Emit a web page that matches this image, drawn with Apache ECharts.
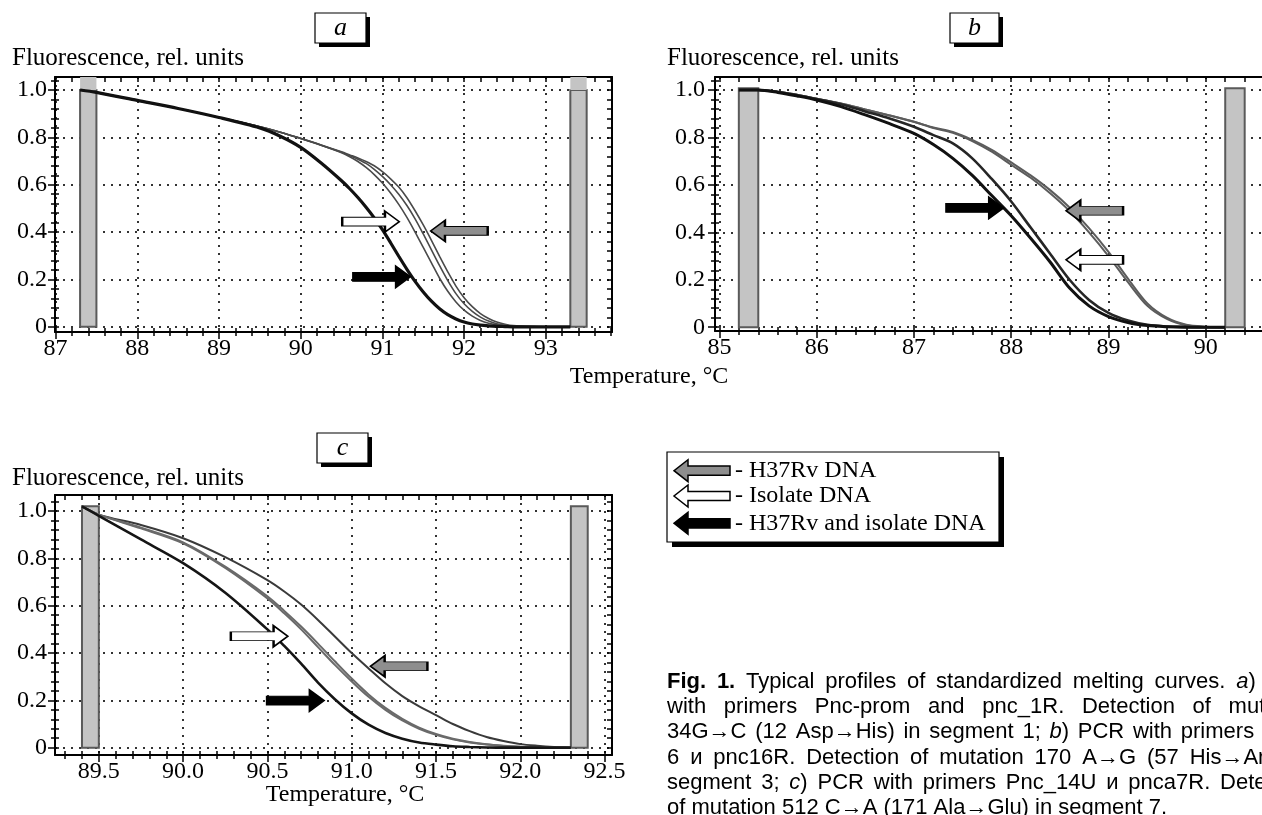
<!DOCTYPE html>
<html>
<head>
<meta charset="utf-8">
<title>Melting curves</title>
<script src="https://cdn.jsdelivr.net/npm/echarts@6.0.0/dist/echarts.min.js"></script>
<style>
html, body { margin: 0; padding: 0; background: #fff; }
#chart { width: 1262px; height: 815px; }
</style>
</head>
<body>
<div id="chart"></div>
<script>
// panel a - temperatures and normalised fluorescence
var tempA = [87.3, 87.5, 88.0, 88.5, 89.0, 89.5, 89.75, 90.0, 90.25, 90.5, 90.6, 90.7, 90.8, 90.9, 91.0, 91.1, 91.2, 91.3, 91.4, 91.5, 91.6, 91.7, 91.8, 91.9, 92.0, 92.1, 92.2, 92.3, 92.4, 92.5, 92.6, 92.8, 93.0, 93.3];
var aBoth    = [1.0, 0.99, 0.956, 0.922, 0.884, 0.84, 0.805, 0.758, 0.692, 0.617, 0.583, 0.546, 0.505, 0.46, 0.41, 0.355, 0.298, 0.243, 0.192, 0.147, 0.108, 0.076, 0.051, 0.033, 0.02, 0.012, 0.007, 0.004, 0.002, 0.001, 0, 0, 0, 0];
var aIsolate = [1.0, 0.99, 0.956, 0.922, 0.884, 0.845, 0.822, 0.795, 0.767, 0.735, 0.718, 0.698, 0.673, 0.643, 0.607, 0.565, 0.517, 0.462, 0.4, 0.335, 0.27, 0.205, 0.15, 0.105, 0.07, 0.045, 0.027, 0.015, 0.008, 0.004, 0.002, 0.001, 0, 0];
var aMiddle  = [1.0, 0.99, 0.956, 0.922, 0.884, 0.845, 0.822, 0.795, 0.767, 0.737, 0.723, 0.708, 0.69, 0.665, 0.635, 0.6, 0.56, 0.512, 0.456, 0.392, 0.325, 0.258, 0.195, 0.14, 0.097, 0.065, 0.041, 0.024, 0.013, 0.007, 0.003, 0.001, 0, 0];
var aH37Rv   = [1.0, 0.99, 0.956, 0.922, 0.884, 0.845, 0.822, 0.796, 0.768, 0.739, 0.726, 0.713, 0.698, 0.68, 0.655, 0.625, 0.59, 0.545, 0.49, 0.43, 0.365, 0.297, 0.232, 0.172, 0.123, 0.085, 0.056, 0.035, 0.02, 0.011, 0.005, 0.001, 0, 0];

// panel b
var tempB = [85.2, 85.4, 85.6, 85.8, 86.0, 86.25, 86.5, 86.75, 87.0, 87.2, 87.4, 87.6, 87.8, 88.0, 88.2, 88.4, 88.6, 88.8, 89.0, 89.2, 89.4, 89.6, 89.8, 90.0, 90.2];
var bBoth    = [1.0, 1.0, 0.99, 0.975, 0.958, 0.93, 0.895, 0.858, 0.817, 0.77, 0.712, 0.64, 0.555, 0.47, 0.375, 0.275, 0.165, 0.09, 0.045, 0.02, 0.007, 0.002, 0, 0, 0];
var bIsolate = [1.0, 1.0, 0.992, 0.978, 0.962, 0.94, 0.91, 0.88, 0.845, 0.81, 0.775, 0.712, 0.625, 0.53, 0.42, 0.31, 0.2, 0.115, 0.06, 0.028, 0.01, 0.003, 0.001, 0, 0];
var bH37Rv1  = [1.0, 1.0, 0.993, 0.98, 0.963, 0.943, 0.918, 0.893, 0.866, 0.84, 0.82, 0.785, 0.74, 0.685, 0.63, 0.565, 0.49, 0.4, 0.3, 0.19, 0.09, 0.035, 0.008, 0.001, 0];
var bH37Rv2  = [1.0, 1.0, 0.993, 0.98, 0.963, 0.943, 0.918, 0.893, 0.866, 0.842, 0.823, 0.79, 0.748, 0.695, 0.64, 0.578, 0.505, 0.418, 0.318, 0.205, 0.1, 0.04, 0.01, 0.002, 0];

// panel c
var tempC = [89.4, 89.5, 89.75, 90.0, 90.25, 90.5, 90.6, 90.7, 90.8, 90.9, 91.0, 91.1, 91.2, 91.3, 91.4, 91.5, 91.6, 91.7, 91.8, 91.9, 92.0, 92.1, 92.2, 92.3];
var cBoth     = [1.02, 0.98, 0.88, 0.78, 0.655, 0.5, 0.43, 0.355, 0.275, 0.205, 0.145, 0.097, 0.062, 0.038, 0.022, 0.013, 0.006, 0.003, 0.001, 0, 0, 0, 0, 0];
var cIsolate1 = [1.02, 0.985, 0.927, 0.864, 0.76, 0.631, 0.568, 0.5, 0.425, 0.35, 0.28, 0.215, 0.16, 0.115, 0.08, 0.054, 0.035, 0.022, 0.013, 0.007, 0.004, 0.002, 0.001, 0];
var cIsolate2 = [1.02, 0.985, 0.93, 0.868, 0.765, 0.64, 0.578, 0.512, 0.44, 0.365, 0.292, 0.225, 0.168, 0.122, 0.085, 0.058, 0.038, 0.024, 0.014, 0.008, 0.004, 0.002, 0.001, 0];
var cH37Rv    = [1.02, 0.985, 0.941, 0.885, 0.805, 0.708, 0.66, 0.605, 0.54, 0.47, 0.40, 0.335, 0.272, 0.218, 0.175, 0.138, 0.1, 0.07, 0.045, 0.028, 0.015, 0.008, 0.003, 0];

// tick labels
var xTicksA = [87, 88, 89, 90, 91, 92, 93];
var xTicksB = [85, 86, 87, 88, 89, 90];
var xTicksC = [89.5, 90.0, 90.5, 91.0, 91.5, 92.0, 92.5];
var yTicks = [0, 0.2, 0.4, 0.6, 0.8, 1.0];

// normalisation windows (grey bars): [from, to]
var windowsA = [[87.3, 87.5], [93.3, 93.5]];
var windowsB = [[85.2, 85.4], [90.2, 90.4]];
var windowsC = [[89.4, 89.5], [92.3, 92.4]];

// arrows: [temperature, fluorescence, direction, kind]
var arrowsA = [[90.857, 0.444, 'r', 'isolate'], [91.94, 0.405, 'l', 'ref'], [90.993, 0.211, 'r', 'both']];
var arrowsB = [[87.627, 0.503, 'r', 'both'], [88.857, 0.491, 'l', 'ref'], [88.857, 0.284, 'l', 'isolate']];
var arrowsC = [[90.452, 0.471, 'r', 'isolate'], [90.667, 0.199, 'r', 'both'], [91.28, 0.344, 'l', 'ref']];

var legendRows = ['- H37Rv DNA', '- Isolate DNA', '- H37Rv and isolate DNA'];

var captionLines = [
    'Fig. 1. Typical profiles of standardized melting curves. a) PCR',
    'with primers Pnc-prom and pnc_1R. Detection of mutation',
    '34G\u2192C (12 Asp\u2192His) in segment 1; b) PCR with primers Pnc_',
    '6 \u0438 pnc16R. Detection of mutation 170 A\u2192G (57 His\u2192Arg) in',
    'segment 3; c) PCR with primers Pnc_14U \u0438 pnca7R. Detection',
    'of mutation 512 C\u2192A (171 Ala\u2192Glu) in segment 7.'
];

var SERIF = '"Liberation Serif", "DejaVu Serif", serif';
var SANS = '"Liberation Sans", Arial, sans-serif';
var FILL = { ref: '#8e8e8e', isolate: '#ffffff', both: '#000000' };
var ARROW_R = 'path://M0,7L45,7L45,0L60,12L45,24L45,17L0,17Z';
var ARROW_L = 'path://M60,7L15,7L15,0L0,12L15,24L15,17L60,17Z';

var panels = [
    { box: { left: 55, top: 77, width: 557, height: 255 }, x: [86.993, 93.81], y: [-0.022, 1.055],
      xTicks: xTicksA, xStep: 0.2, xFmt: function (v) { return String(v); }, yMargin: 8 },
    { box: { left: 715, top: 77, width: 554, height: 254 }, x: [84.955, 90.65], y: [-0.016, 1.055],
      xTicks: xTicksB, xStep: 0.2, xFmt: function (v) { return String(v); }, yMargin: 10 },
    { box: { left: 55, top: 495, width: 557, height: 260 }, x: [89.24, 92.544], y: [-0.031, 1.068],
      xTicks: xTicksC, xStep: 0.1, xFmt: function (v) { return v.toFixed(1); }, yMargin: 8 }
];

function ticksBetween(lo, hi, step) {
    var out = [];
    for (var k = Math.ceil(lo / step - 1e-6); k * step <= hi + 1e-6; k++) {
        out.push(+(k * step).toFixed(4));
    }
    return out;
}

var ink = { color: '#000', width: 2 };
var tickInk = { color: '#000', width: 1.5 };
var dots = { color: '#333', width: 2, type: [2, 6] };
var xAxis = [], yAxis = [];

panels.forEach(function (p, g) {
    var xAll = ticksBetween(p.x[0], p.x[1], p.xStep);
    var yAll = ticksBetween(p.y[0], p.y[1], 0.04);
    var base = { gridIndex: g, type: 'value', min: p.x[0], max: p.x[1] };
    var plain = { axisLabel: { show: false }, splitLine: { show: false } };
    xAxis.push(Object.assign({}, base, {
        position: 'bottom',
        axisLine: { onZero: false, lineStyle: ink },
        axisTick: { customValues: p.xTicks, length: 7, lineStyle: tickInk },
        axisLabel: { customValues: p.xTicks, formatter: p.xFmt, margin: 5, fontSize: 24, color: '#000', fontFamily: SERIF },
        splitLine: { show: true, lineStyle: dots }
    }));
    xAxis.push(Object.assign({}, base, plain, { position: 'bottom', axisLine: { show: false, onZero: false },
        axisTick: { customValues: xAll, length: 4, lineStyle: tickInk } }));
    xAxis.push(Object.assign({}, base, plain, { position: 'bottom', axisLine: { show: false, onZero: false },
        axisTick: { customValues: xAll, length: 4, inside: true, lineStyle: tickInk } }));
    xAxis.push(Object.assign({}, base, plain, { position: 'top', axisLine: { onZero: false, lineStyle: ink },
        axisTick: { customValues: xAll, length: 5, inside: true, lineStyle: tickInk } }));

    var ybase = { gridIndex: g, type: 'value', min: p.y[0], max: p.y[1] };
    yAxis.push(Object.assign({}, ybase, {
        position: 'left',
        axisLine: { show: true, onZero: false, lineStyle: ink },
        axisTick: { show: true, customValues: yTicks, length: 7, lineStyle: tickInk },
        axisLabel: { customValues: yTicks, margin: p.yMargin, fontSize: 24, color: '#000', fontFamily: SERIF,
            formatter: function (v) { return v === 0 ? '0' : v.toFixed(1); } },
        splitLine: { show: true, lineStyle: dots }
    }));
    yAxis.push(Object.assign({}, ybase, plain, { position: 'left', axisLine: { show: false, onZero: false },
        axisTick: { show: true, customValues: yAll, length: 4, lineStyle: tickInk } }));
    yAxis.push(Object.assign({}, ybase, plain, { position: 'left', axisLine: { show: false, onZero: false },
        axisTick: { show: true, customValues: yAll, length: 4, inside: true, lineStyle: tickInk } }));
    yAxis.push(Object.assign({}, ybase, plain, { position: 'right', axisLine: { show: true, onZero: false, lineStyle: ink },
        axisTick: { show: true, customValues: yAll, length: 5, inside: true, lineStyle: tickInk } }));
});

var series = [];

function curve(g, temps, vals, color, width) {
    series.push({
        type: 'line', xAxisIndex: g * 4, yAxisIndex: g * 4, z: 3, silent: true,
        data: temps.map(function (t, i) { return [t, vals[i]]; }),
        smooth: 0.3, symbol: 'none',
        lineStyle: { color: color, width: width }
    });
}

function windowsOf(g, spans, top, upper) {
    var data = spans.map(function (s) {
        return [{ xAxis: s[0], yAxis: 0 }, { xAxis: s[1], yAxis: top }];
    });
    if (upper) {
        spans.forEach(function (s) {
            data.push([{ xAxis: s[0], yAxis: top, itemStyle: { borderWidth: 0 } }, { xAxis: s[1], yAxis: upper }]);
        });
    }
    series.push({
        type: 'line', xAxisIndex: g * 4, yAxisIndex: g * 4, z: 1, data: [], silent: true,
        markArea: { silent: true, itemStyle: { color: '#c4c4c4', borderColor: '#5a5a5a', borderWidth: 2 }, data: data }
    });
}

function arrowsOf(g, list) {
    series.push({
        type: 'line', xAxisIndex: g * 4, yAxisIndex: g * 4, z: 6, data: [], silent: true,
        markPoint: {
            silent: true, label: { show: false },
            itemStyle: { borderColor: '#000', borderWidth: 1.5 },
            data: list.map(function (a) {
                return { coord: [a[0], a[1]], symbol: a[2] === 'r' ? ARROW_R : ARROW_L,
                    symbolSize: [57, 21], itemStyle: { color: FILL[a[3]] } };
            })
        }
    });
}

windowsOf(0, windowsA, 1.0, 1.055);
curve(0, tempA, aH37Rv, '#4a4a4a', 1.6);
curve(0, tempA, aMiddle, '#4a4a4a', 1.6);
curve(0, tempA, aIsolate, '#4a4a4a', 1.6);
curve(0, tempA, aBoth, '#111', 3.2);
arrowsOf(0, arrowsA);

windowsOf(1, windowsB, 1.008);
curve(1, tempB, bH37Rv1, '#5c5c5c', 2);
curve(1, tempB, bH37Rv2, '#5c5c5c', 2);
curve(1, tempB, bIsolate, '#262626', 2.6);
curve(1, tempB, bBoth, '#111', 3);
arrowsOf(1, arrowsB);

windowsOf(2, windowsC, 1.02);
curve(2, tempC, cH37Rv, '#3a3a3a', 2);
curve(2, tempC, cIsolate1, '#6a6a6a', 2);
curve(2, tempC, cIsolate2, '#6a6a6a', 2);
curve(2, tempC, cBoth, '#151515', 2.6);
arrowsOf(2, arrowsC);

// ---- decorations: titles, letter boxes, legend, caption ----
var graphic = [];

function text(x, y, str, font, align, extra) {
    graphic.push({ type: 'text', x: x, y: y, z: 10, silent: true,
        style: Object.assign({ text: str, font: font, fill: '#000', textAlign: align || 'left', textVerticalAlign: 'middle',
                 align: align || 'left', verticalAlign: 'middle' }, extra || {}) });
}

function shadowBox(x, y, w, h, off) {
    graphic.push({ type: 'rect', z: 10, silent: true, shape: { x: x + off, y: y + off, width: w, height: h }, style: { fill: '#000' } });
    graphic.push({ type: 'rect', z: 10, silent: true, shape: { x: x, y: y, width: w, height: h }, style: { fill: '#fff', stroke: '#000', lineWidth: 1.2 } });
}

function arrowPoints(x0, cy, w, h, dir) {
    var tpl = [[0, 7], [45, 7], [45, 0], [60, 12], [45, 24], [45, 17], [0, 17]];
    return tpl.map(function (p) {
        var px = dir === 'r' ? p[0] : 60 - p[0];
        return [x0 + px * w / 60, cy + (p[1] - 12) * h / 24];
    });
}

[[12, 58], [667, 58], [12, 478]].forEach(function (p) {
    text(p[0], p[1], 'Fluorescence, rel. units', '25px ' + SERIF);
});
[[649, 377], [345, 795]].forEach(function (p) {
    text(p[0], p[1], 'Temperature, °C', '24px ' + SERIF, 'center');
});

[[315, 13, 51, 30, 'a'], [950, 13, 49, 30, 'b'], [317, 433, 51, 30, 'c']].forEach(function (b) {
    shadowBox(b[0], b[1], b[2], b[3], 4);
    text(b[0] + b[2] / 2, b[1] + b[3] / 2, b[4], 'italic 26px ' + SERIF, 'center');
});

shadowBox(667, 452, 332, 90, 5);
[['ref', 470.7], ['isolate', 496], ['both', 523.3]].forEach(function (r, i) {
    graphic.push({ type: 'polygon', z: 11, silent: true,
        shape: { points: arrowPoints(674, r[1], 56, 22, 'l') },
        style: { fill: FILL[r[0]], stroke: '#000', lineWidth: 1.5 } });
    text(735, r[1], legendRows[i], '24px ' + SERIF);
});

// justified caption, word by word
var capFont = '22px ' + SANS;
var capBold = 'bold 22px ' + SANS;
var capItal = 'italic 22px ' + SANS;
var measure = document.createElement('canvas').getContext('2d');
function widthOf(str, font) { measure.font = font; return measure.measureText(str).width; }
var capLeft = 667, capWidth = 646, capTop = 681.7, capStep = 25.3;
captionLines.forEach(function (line, li) {
    var words = line.split(' ').map(function (w, wi) {
        if (li === 0 && wi < 2) return { parts: [[w, capBold]] };
        if (/^[abc]\)$/.test(w)) return { parts: [[w[0], capItal], [')', capFont]] };
        return { parts: [[w, capFont]] };
    });
    var total = 0;
    words.forEach(function (w) {
        w.width = 0;
        w.parts.forEach(function (p) { w.width += widthOf(p[0], p[1]); });
        total += w.width;
    });
    var last = li === captionLines.length - 1;
    var gap = last ? widthOf(' ', capFont) : (capWidth - total) / (words.length - 1);
    var x = capLeft, y = capTop + li * capStep;
    words.forEach(function (w) {
        var px = x;
        w.parts.forEach(function (p) {
            text(px, y, p[0], p[1]);
            px += widthOf(p[0], p[1]);
        });
        x += w.width + gap;
    });
});

var chart = echarts.init(document.getElementById('chart'));
chart.setOption({
    animation: false,
    backgroundColor: '#fff',
    textStyle: { fontFamily: SERIF },
    grid: panels.map(function (p) { return Object.assign({ containLabel: false, outerBoundsMode: 'none' }, p.box); }),
    xAxis: xAxis,
    yAxis: yAxis,
    series: series,
    graphic: graphic
});
</script>
</body>
</html>
